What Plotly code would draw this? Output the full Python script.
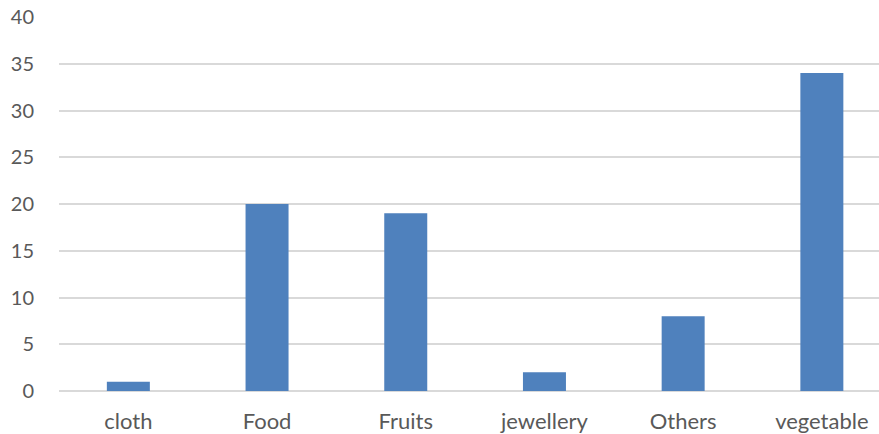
import plotly.graph_objects as go

categories = ["cloth", "Food", "Fruits", "jewellery", "Others", "vegetable"]
counts = [1, 20, 19, 2, 8, 34]
y_ticks = [0, 5, 10, 15, 20, 25, 30, 35, 40]

bar_color = "#4F81BD"
text_color = "#595959"
grid_color = "#D9D9D9"

fig = go.Figure(
    go.Bar(
        x=list(range(len(categories))),
        y=counts,
        width=0.31,
        marker=dict(color=bar_color, line=dict(width=0)),
        hoverinfo="x+y",
    )
)

fig.update_layout(
    width=879,
    height=434,
    margin=dict(l=59, r=0, t=17, b=43),
    plot_bgcolor="white",
    paper_bgcolor="white",
    showlegend=False,
    font=dict(family="Lato, Open Sans, sans-serif", size=20, color=text_color),
)

fig.update_xaxes(
    range=[-0.5, 5.412],
    tickmode="array",
    tickvals=list(range(len(categories))),
    ticktext=categories,
    tickfont=dict(size=22),
    showgrid=False,
    zeroline=False,
    showline=False,
    ticks="outside",
    ticklen=11,
    tickcolor="rgba(0,0,0,0)",
)

fig.update_yaxes(
    range=[0, 40],
    tickmode="array",
    tickvals=y_ticks,
    tickfont=dict(size=20),
    showgrid=True,
    gridcolor=grid_color,
    gridwidth=1.5,
    zeroline=True,
    zerolinecolor=grid_color,
    zerolinewidth=1.5,
    showline=False,
    ticks="outside",
    ticklen=20,
    tickcolor="rgba(0,0,0,0)",
)

fig.write_html("out.html")
